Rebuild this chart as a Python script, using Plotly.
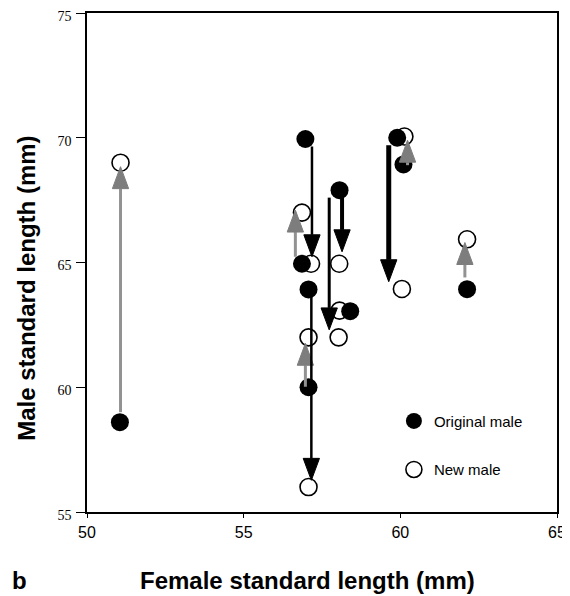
import plotly.graph_objects as go

# Original male (filled)
orig_x = [51.05, 56.97, 58.06, 56.86, 57.07, 58.40, 57.07, 59.90, 60.10, 62.13]
orig_y = [58.60, 69.95, 67.90, 64.95, 63.92, 63.05, 60.00, 70.00, 68.93, 63.93]
# New male (open)
new_x = [51.07, 56.86, 57.15, 58.05, 58.06, 58.03, 57.07, 57.07, 60.13, 60.05, 62.13]
new_y = [69.00, 67.00, 64.95, 64.95, 63.07, 62.00, 62.00, 56.00, 70.05, 63.94, 65.93]

# Arrows: x position, start y, tip y, colour kind, line width
arrow_x = [51.07, 56.65, 57.18, 57.73, 58.14, 59.63, 60.23, 62.06, 56.97, 57.16]
arrow_y0 = [59.00, 65.23, 69.65, 67.60, 67.90, 69.70, 68.90, 64.40, 60.02, 63.90]
arrow_y1 = [68.84, 67.10, 65.23, 62.30, 65.43, 64.23, 69.90, 65.80, 61.76, 56.27]
arrow_kind = ["gray", "gray", "black", "black", "black", "black", "gray", "gray", "gray", "black"]
arrow_w = [3, 3, 2.5, 3, 4, 5, 3, 3, 3, 2.5]

x_ticks = [50, 55, 60, 65]
y_ticks = [55, 60, 65, 70, 75]

LINE_COL = {"gray": "#929292", "black": "#000000"}
HEAD_COL = {"gray": "#7d7d7d", "black": "#000000"}
HEAD_LEN = 0.88   # y units
HEAD_HW = 0.26    # x units

fig = go.Figure()

fig.add_trace(go.Scatter(
    x=new_x, y=new_y, mode="markers", name="New male", legendgroup="b", legendrank=2,
    marker=dict(symbol="circle", size=17, color="white", line=dict(color="black", width=1.6)),
))
fig.add_trace(go.Scatter(
    x=orig_x, y=orig_y, mode="markers", name="Original male", legendgroup="a", legendrank=1,
    marker=dict(symbol="circle", size=18, color="black", line=dict(color="black", width=0)),
))

for xa, y0, y1, kind, w in zip(arrow_x, arrow_y0, arrow_y1, arrow_kind, arrow_w):
    direction = 1 if y1 > y0 else -1
    base = y1 - direction * HEAD_LEN
    fig.add_trace(go.Scatter(
        x=[xa, xa], y=[y0, base], mode="lines", showlegend=False, hoverinfo="skip",
        line=dict(color=LINE_COL[kind], width=w),
    ))
    fig.add_trace(go.Scatter(
        x=[xa - HEAD_HW, xa + HEAD_HW, xa, xa - HEAD_HW],
        y=[base, base, y1, base], mode="lines", fill="toself",
        fillcolor=HEAD_COL[kind], line=dict(color=HEAD_COL[kind], width=1),
        showlegend=False, hoverinfo="skip",
    ))

fig.update_layout(
    width=562, height=588,
    margin=dict(l=79, r=13, t=5, b=84, autoexpand=False),
    paper_bgcolor="white", plot_bgcolor="white",
    showlegend=True,
    legend=dict(
        x=0.653, y=0.215, xanchor="left", yanchor="top",
        bgcolor="rgba(0,0,0,0)", borderwidth=0,
        font=dict(family="Liberation Sans, Arial", size=15, color="black"),
        traceorder="grouped", tracegroupgap=26, itemwidth=30,
    ),
    font=dict(family="Liberation Sans, Arial", color="black"),
)

fig.update_xaxes(
    range=[50, 65], tickvals=x_ticks, ticktext=[str(v) for v in x_ticks],
    showgrid=False, zeroline=False, showline=True, linecolor="black", linewidth=1.5,
    mirror=True, ticks="outside", ticklen=4, tickwidth=1.2, tickcolor="black",
    tickfont=dict(family="Liberation Sans, Arial", size=16, color="black"),
    ticklabelstandoff=1, automargin=False, ticklabeloverflow="allow",
)
fig.update_yaxes(
    range=[55, 75], tickvals=y_ticks, ticktext=[str(v) for v in y_ticks],
    showgrid=False, zeroline=False, showline=True, linecolor="black", linewidth=1.5,
    mirror=True, ticks="outside", ticklen=9, tickwidth=1.2, tickcolor="black",
    tickfont=dict(family="Liberation Serif, Times New Roman", size=14, color="black"),
    ticklabelstandoff=2, ticklabelshift=3, automargin=False, ticklabeloverflow="allow",
)

fig.add_annotation(
    text="<b>Female standard length (mm)</b>", xref="paper", yref="paper",
    x=0.470, y=-0.138, xanchor="center", yanchor="middle", showarrow=False,
    font=dict(family="Liberation Sans, Arial", size=24, color="black"),
)
fig.add_annotation(
    text="<b>Male standard length (mm)</b>", xref="paper", yref="paper",
    x=-0.129, y=0.448, xanchor="center", yanchor="middle", showarrow=False, textangle=-90,
    font=dict(family="Liberation Sans, Arial", size=24, color="black"),
)
fig.add_annotation(
    text="<b>b</b>", xref="paper", yref="paper",
    x=-0.1426, y=-0.138, xanchor="center", yanchor="middle", showarrow=False,
    font=dict(family="Liberation Sans, Arial", size=24, color="black"),
)

fig.write_html("out.html")
